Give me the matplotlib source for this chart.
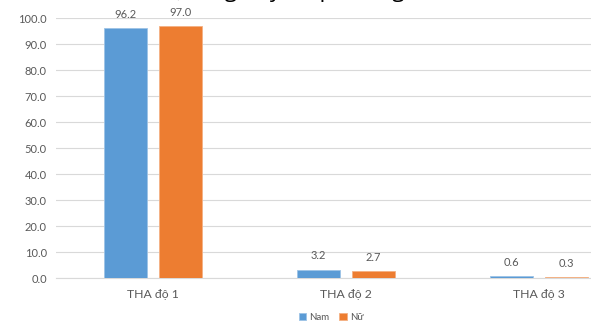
import matplotlib
matplotlib.use("Agg")
import matplotlib.pyplot as plt
import numpy as np

plt.rcParams['font.family'] = ['Lato', 'DejaVu Sans']

# THA levels by sex (%)
categories = ["THA độ 1", "THA độ 2", "THA độ 3"]
nam = [96.2, 3.2, 0.6]
nu = [97.0, 2.7, 0.3]
series_names = ["Nam", "Nữ"]
yticks = [0, 10, 20, 30, 40, 50, 60, 70, 80, 90, 100]

c_nam = "#5B9BD5"
c_nu = "#ED7D31"
txt = "#595959"

fig = plt.figure(figsize=(5.91, 3.22), dpi=100)
# plot area runs past the right edge of the figure
ax = fig.add_axes([0.0956, 0.1366, 0.98, 0.807])

x = np.arange(len(categories))
w = 0.225
b1 = ax.bar(x - 0.143, nam, w, color=c_nam, edgecolor="#9DC3E6", linewidth=0.6, label=series_names[0], zorder=3)
b2 = ax.bar(x + 0.143, nu, w, color=c_nu, edgecolor="#F4B183", linewidth=0.6, label=series_names[1], zorder=3)

for bars, vals in ((b1, nam), (b2, nu)):
    for r, v in zip(bars, vals):
        ax.annotate("%.1f" % v, (r.get_x() + r.get_width() / 2, v),
                    xytext=(0, 6), textcoords="offset points",
                    ha="center", va="bottom", fontsize=8, color=txt)

ax.set_xlim(-0.5, len(categories) - 0.5)
ax.set_ylim(0, 100)
ax.set_yticks(yticks)
ax.set_yticklabels(["%.1f" % t for t in yticks], fontsize=8, color=txt)
ax.set_xticks(x)
ax.set_xticklabels(categories, fontsize=8.8, color=txt)
ax.tick_params(length=0, pad=7)
ax.tick_params(axis="x", pad=8)
ax.yaxis.grid(True, color="#D9D9D9", linewidth=0.8, zorder=0)
for s in ["top", "right", "left"]:
    ax.spines[s].set_visible(False)
ax.spines["bottom"].set_color("#D9D9D9")
ax.spines["bottom"].set_linewidth(0.8)

fig.legend(handles=[b1, b2], labels=series_names, loc="center", bbox_to_anchor=(0.56, 0.015),
           ncol=2, frameon=False, fontsize=7, handlelength=0.8, handleheight=0.8,
           handletextpad=0.3, columnspacing=1.0, labelcolor=txt)

# caption sitting above, cut off by the top edge
fig.text(15 / 591, 1.008, "Phân bố mức độ tăng huyết áp theo giới tính (%, n)",
         fontsize=16, va="baseline", ha="left", color="black",
         family=["Open Sans", "DejaVu Sans"])

fig.savefig("out.png", dpi=100)
